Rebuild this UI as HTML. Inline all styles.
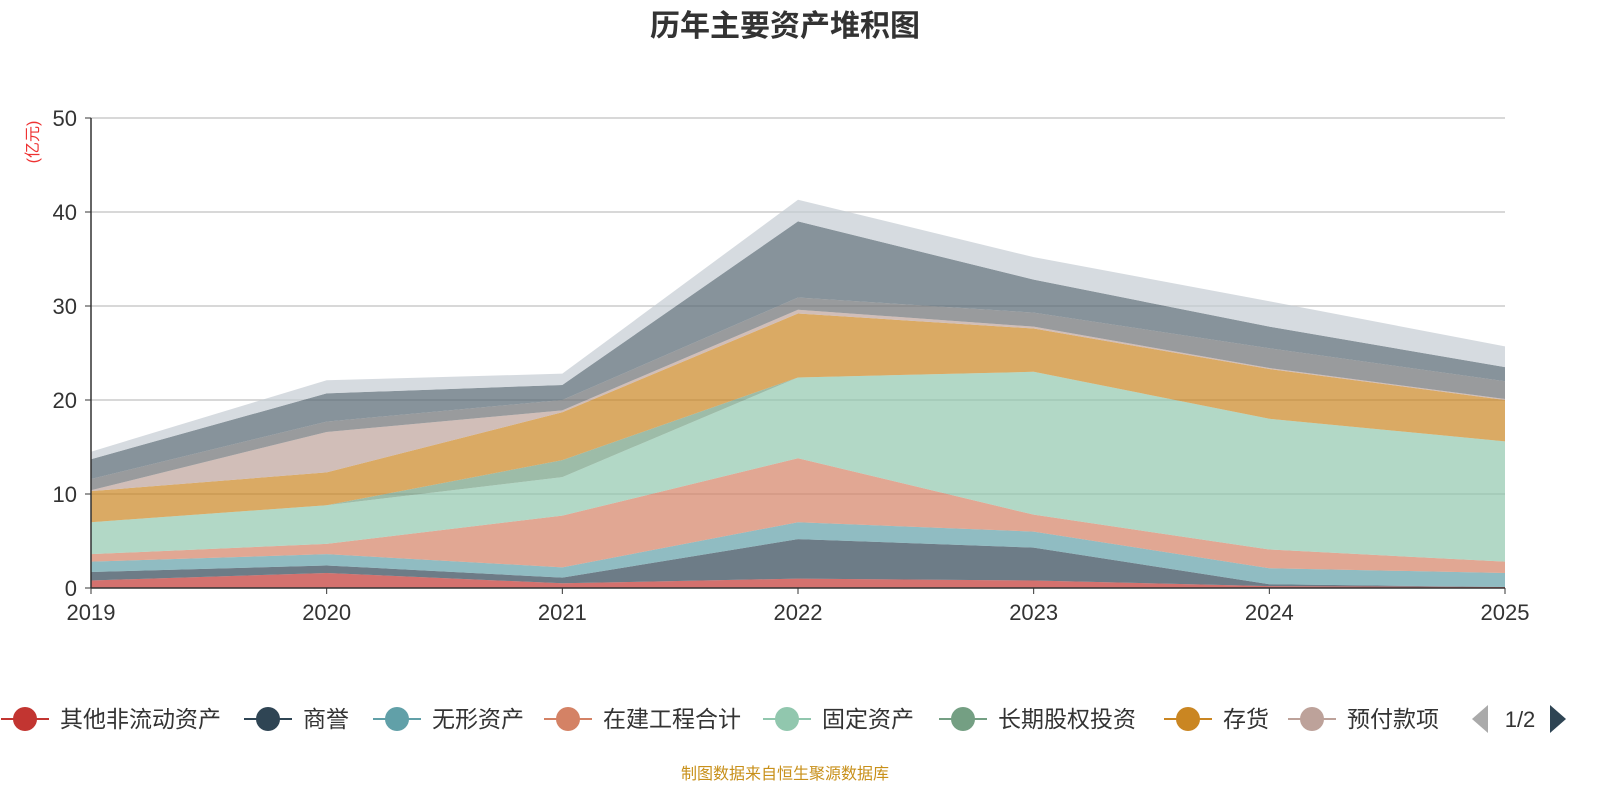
<!DOCTYPE html>
<html><head><meta charset="utf-8">
<style>
body{margin:0;background:#fff;font-family:"Liberation Sans","Noto Sans CJK SC",sans-serif;}
svg{display:block}
</style></head>
<body>
<svg id="c" width="1600" height="800" xmlns="http://www.w3.org/2000/svg">
<text x="785" y="36" text-anchor="middle" font-size="30" font-weight="bold" fill="#333" font-family="Liberation Sans,Noto Sans CJK SC,sans-serif">历年主要资产堆积图</text>
<text transform="translate(38,142) rotate(-90)" text-anchor="middle" font-size="16" fill="#e33" font-family="Liberation Sans,Noto Sans CJK SC,sans-serif">(亿元)</text>
<g id="grid"></g><g id="areas"></g><g id="axes"></g><g id="legend"></g>
<text x="785" y="779" text-anchor="middle" font-size="16" fill="#c8901a" font-family="Liberation Sans,Noto Sans CJK SC,sans-serif">制图数据来自恒生聚源数据库</text>
</svg>
<script>
const years=["2019","2020","2021","2022","2023","2024","2025"];
const yTicks=[0,10,20,30,40,50];
const names=["其他非流动资产","商誉","无形资产","在建工程合计","固定资产","长期股权投资","存货","预付款项","其他1","其他2","其他3"];
const colors=["#c23531","#2f4554","#61a0a8","#d48265","#91c7ae","#749f83","#ca8622","#bda29a","#6e7074","#546570","#c4ccd3"];
const s0=[0.8,1.6,0.5,1.0,0.8,0.2,0.1];
const s1=[0.9,0.8,0.6,4.2,3.5,0.2,0.0];
const s2=[1.1,1.2,1.1,1.8,1.7,1.7,1.5];
const s3=[0.8,1.1,5.5,6.8,1.8,2.0,1.2];
const s4=[3.4,4.1,4.1,8.6,15.2,13.9,12.8];
const s5=[0.0,0.0,1.8,0.0,0.0,0.0,0.0];
const s6=[3.3,3.5,5.1,6.8,4.6,5.3,4.4];
const s7=[0.1,4.3,0.2,0.4,0.2,0.1,0.1];
const s8=[1.2,1.1,1.1,1.3,1.5,2.1,1.9];
const s9=[2.1,3.0,1.6,8.1,3.5,2.3,1.5];
const s10=[0.8,1.4,1.2,2.3,2.4,2.7,2.2];
const series=[s0,s1,s2,s3,s4,s5,s6,s7,s8,s9,s10];
const X0=91,X1=1505,Y0=588,Y1=118,YMAX=50;
const xs=i=>X0+(X1-X0)*i/(years.length-1);
const ys=v=>Y0-(Y0-Y1)*v/YMAX;
const NS="http://www.w3.org/2000/svg";
function mk(t,a,p){const e=document.createElementNS(NS,t);for(const k in a)e.setAttribute(k,a[k]);p.appendChild(e);return e;}
const F="Liberation Sans,Noto Sans CJK SC,sans-serif";
const grid=document.getElementById('grid'),axes=document.getElementById('axes'),areas=document.getElementById('areas'),leg=document.getElementById('legend');
yTicks.forEach(v=>{
 if(v>0){const l=mk('line',{x1:X0,x2:X1,y1:ys(v),y2:ys(v),stroke:'#ccc','stroke-width':1.5},grid);
 
 }
 const t=mk('text',{x:X0-14,y:ys(v)+8,'text-anchor':'end','font-size':22,fill:'#333','font-family':F},axes);t.textContent=v;
 
 
 const tk=mk('line',{x1:X0-6,x2:X0,y1:ys(v),y2:ys(v),stroke:'#333'},axes);
 
 
});
let cum=years.map(()=>0);
series.forEach((s,k)=>{
 const lo=cum.slice();cum=cum.map((c,i)=>c+s[i]);
 let d='M'+years.map((_,i)=>xs(i)+','+ys(cum[i])).join('L');
 for(let i=years.length-1;i>=0;i--)d+='L'+xs(i)+','+ys(lo[i]);
 d+='Z';
 const p=mk('path',{d:d,fill:colors[k],'fill-opacity':0.7,stroke:'none'},areas);
 
 
});
const ax=mk('line',{x1:X0,x2:X0,y1:Y1,y2:Y0,stroke:'#333','stroke-width':1.5},axes);


const xa=mk('line',{x1:X0,x2:X1,y1:Y0,y2:Y0,stroke:'#333','stroke-width':1.5},axes);


years.forEach((y,i)=>{
 const tk=mk('line',{x1:xs(i),x2:xs(i),y1:Y0,y2:Y0+6,stroke:'#333'},axes);
 
 
 const t=mk('text',{x:xs(i),y:620,'text-anchor':'middle','font-size':22,fill:'#333','font-family':F},axes);t.textContent=y;
 
 
});
const lx=[25,268,397,568,787,963,1188,1312];
for(let k=0;k<8;k++){
 const g=mk('g',{},leg);
 
 
 mk('line',{x1:lx[k]-24,x2:lx[k]+24,y1:719,y2:719,stroke:colors[k],'stroke-width':2},g);
 mk('circle',{cx:lx[k],cy:719,r:12,fill:colors[k]},g);
 const t=mk('text',{x:lx[k]+35,y:727,'font-size':23,fill:'#333','font-family':F},g);t.textContent=names[k];
}
const pa=mk('path',{d:'M1472,719L1488,705L1488,733Z',fill:'#aaa'},leg);


const pt=mk('text',{x:1520,y:727,'text-anchor':'middle','font-size':22,fill:'#333','font-family':F},leg);pt.textContent='1/2';


const pn=mk('path',{d:'M1566,719L1550,705L1550,733Z',fill:'#2f4554'},leg);


</script>
</body></html>
